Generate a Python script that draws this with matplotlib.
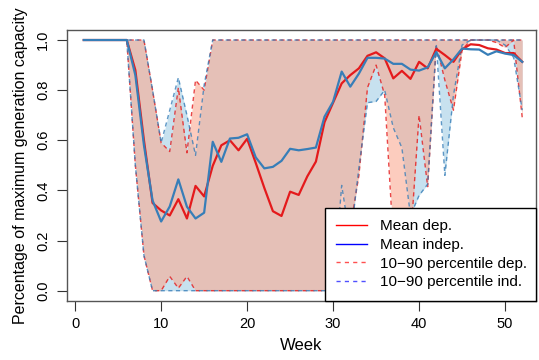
import numpy as np
import matplotlib
matplotlib.use("Agg")
import matplotlib.pyplot as plt
from matplotlib.lines import Line2D

weeks = list(range(1, 53))

mean_dep = [1.0, 1.0, 1.0, 1.0, 1.0, 1.0, 0.88, 0.60, 0.35, 0.32,
            0.30, 0.365, 0.288, 0.418, 0.376, 0.498, 0.58, 0.60, 0.56, 0.606,
            0.51, 0.41, 0.317, 0.298, 0.395, 0.382, 0.456, 0.515, 0.672, 0.75,
            0.827, 0.86, 0.887, 0.937, 0.951, 0.927, 0.847, 0.877, 0.845, 0.913,
            0.887, 0.965, 0.94, 0.913, 0.963, 0.983, 0.98, 0.967, 0.962, 0.948,
            0.948, 0.913]

mean_ind = [1.0, 1.0, 1.0, 1.0, 1.0, 1.0, 0.86, 0.58, 0.36, 0.276,
            0.336, 0.444, 0.335, 0.288, 0.311, 0.594, 0.514, 0.607, 0.61, 0.624,
            0.532, 0.488, 0.494, 0.518, 0.566, 0.56, 0.565, 0.571, 0.694, 0.754,
            0.874, 0.814, 0.866, 0.929, 0.929, 0.926, 0.905, 0.905, 0.882, 0.878,
            0.891, 0.952, 0.887, 0.923, 0.966, 0.963, 0.962, 0.941, 0.955, 0.946,
            0.94, 0.913]

p90_dep = [1.0, 1.0, 1.0, 1.0, 1.0, 1.0, 1.0, 1.0, 0.80, 0.59,
           0.555, 0.81, 0.55, 0.84, 0.80, 1.0, 1.0, 1.0, 1.0, 1.0,
           1.0, 1.0, 1.0, 1.0, 1.0, 1.0, 1.0, 1.0, 1.0, 1.0,
           1.0, 1.0, 1.0, 1.0, 1.0, 1.0, 1.0, 1.0, 1.0, 1.0,
           1.0, 1.0, 1.0, 1.0, 1.0, 1.0, 1.0, 1.0, 1.0, 1.0,
           1.0, 1.0]

p90_ind = [1.0, 1.0, 1.0, 1.0, 1.0, 1.0, 1.0, 1.0, 0.80, 0.59,
           0.72, 0.85, 0.70, 0.54, 0.82, 1.0, 1.0, 1.0, 1.0, 1.0,
           1.0, 1.0, 1.0, 1.0, 1.0, 1.0, 1.0, 1.0, 1.0, 1.0,
           1.0, 1.0, 1.0, 1.0, 1.0, 1.0, 1.0, 1.0, 1.0, 1.0,
           1.0, 1.0, 1.0, 1.0, 1.0, 1.0, 1.0, 1.0, 1.0, 1.0,
           1.0, 1.0]

p10_dep = [1.0, 1.0, 1.0, 1.0, 1.0, 1.0, 0.50, 0.14, 0.0, 0.0,
           0.057, 0.01, 0.057, 0.0, 0.0, 0.0, 0.0, 0.0, 0.0, 0.0,
           0.0, 0.0, 0.0, 0.0, 0.0, 0.0, 0.0, 0.0, 0.0, 0.0,
           0.0, 0.25, 0.46, 0.81, 0.90, 0.78, 0.20, 0.15, 0.20, 0.70,
           0.415, 0.98, 0.84, 0.72, 0.96, 1.0, 1.0, 1.0, 0.99, 0.97,
           1.0, 0.69]

p10_ind = [1.0, 1.0, 1.0, 1.0, 1.0, 1.0, 0.50, 0.14, 0.0, 0.0,
           0.0, 0.0, 0.0, 0.0, 0.0, 0.0, 0.0, 0.0, 0.0, 0.0,
           0.0, 0.0, 0.0, 0.0, 0.0, 0.0, 0.0, 0.0, 0.0, 0.0,
           0.42, 0.20, 0.49, 0.75, 0.755, 0.80, 0.65, 0.57, 0.30, 0.38,
           0.425, 0.985, 0.46, 0.78, 0.98, 1.0, 1.0, 1.0, 1.0, 0.98,
           0.93, 0.72]

x_ticks = [0, 10, 20, 30, 40, 50]
y_ticks = [0.0, 0.2, 0.4, 0.6, 0.8, 1.0]
y_tick_labels = ["0.0", "0.2", "0.4", "0.6", "0.8", "1.0"]
legend_labels = ["Mean dep.", "Mean indep.", "10\u221290 percentile dep.", "10\u221290 percentile ind."]

plt.rcParams['font.family'] = ['Liberation Sans', 'DejaVu Sans']

RED = '#E41A1C'
BLUE = '#377EB8'
RED_FILL = (250/255, 170/255, 147/255)
BLUE_FILL = (117/255, 182/255, 217/255)

fig = plt.figure(figsize=(5.39, 3.6), dpi=100)
ax = fig.add_axes([67/539, 1 - 300.7/360, (536 - 67)/539, (300.7 - 30)/360])

ax.fill_between(weeks, p10_ind, p90_ind, color=BLUE_FILL, alpha=0.4, linewidth=0)
ax.fill_between(weeks, p10_dep, p90_dep, color=RED_FILL, alpha=0.6, linewidth=0)

dash = (0, (3, 2.5))
ax.plot(weeks, p90_dep, color=RED, lw=1.0, linestyle=dash, alpha=0.8)
ax.plot(weeks, p10_dep, color=RED, lw=1.0, linestyle=dash, alpha=0.8)
ax.plot(weeks, p90_ind, color=BLUE, lw=1.0, linestyle=(1.5, (3, 2.5)), alpha=0.8)
ax.plot(weeks, p10_ind, color=BLUE, lw=1.0, linestyle=(1.5, (3, 2.5)), alpha=0.8)

ax.plot(weeks, mean_dep, color=RED, lw=1.6)
ax.plot(weeks, mean_ind, color=BLUE, lw=1.6)

ax.set_xlim(-0.95, 53.6)
ax.set_ylim(-0.04, 1.04)
ax.set_xticks(x_ticks)
ax.set_yticks(y_ticks)
ax.set_yticklabels(y_tick_labels, rotation=90, va='center')
ax.tick_params(axis='both', direction='out', length=7, width=0.8, colors='#333333',
               labelsize=10.5, labelcolor='black', pad=5)
for s in ax.spines.values():
    s.set_color('#555555')
    s.set_linewidth(1.0)

ax.set_xlabel("Week", fontsize=12, labelpad=5)
ax.set_ylabel("Percentage of maximum generation capacity", fontsize=11.5, labelpad=6)

handles = [Line2D([], [], color='red', lw=1.0),
           Line2D([], [], color='blue', lw=1.0),
           Line2D([], [], color='#ff5050', lw=1.0, linestyle=(0, (3, 3))),
           Line2D([], [], color='#5050ff', lw=1.0, linestyle=(0, (3, 3)))]
leg = ax.legend(handles, legend_labels, loc='lower left',
                bbox_to_anchor=(0.55, 0.0, 0.45, 0.35), mode='expand',
                fontsize=11, frameon=True, fancybox=False, borderaxespad=0,
                handlelength=2.0, handletextpad=0.85, labelspacing=0.3,
                borderpad=0.75)
leg.get_frame().set_edgecolor('black')
leg.get_frame().set_linewidth(1.0)
leg.get_frame().set_alpha(1.0)

fig.savefig("out.png", dpi=100)
